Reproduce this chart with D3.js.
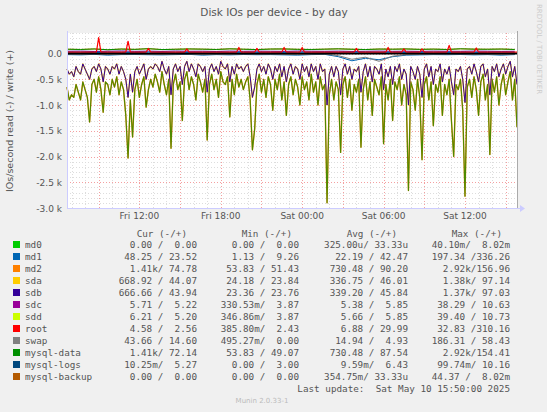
<!DOCTYPE html>
<html><head><meta charset="utf-8">
<script src="https://cdn.jsdelivr.net/npm/d3@7"></script>
<style>body{margin:0;background:#f0f0f0}svg text{white-space:pre}</style>
</head><body><svg id="c" width="547" height="412"></svg>
<script>
// 10-minute samples starting Fri 06:40, ending Sat 15:50 (values in IO/s)
const mysqlDataRead = [-650,-900,-800,-850,-600,-750,-900,-550,-700,-850,
-1330,-600,-500,-750,-450,-700,-1140,-550,-600,-800,
-500,-650,-450,-800,-550,-700,-1200,-2030,-900,-1620,
-700,-500,-850,-600,-450,-1040,-700,-500,-650,-400,
-550,-750,-350,-600,-800,-500,-1840,-600,-400,-700,
-550,-1300,-500,-350,-700,-450,-600,-900,-400,-550,
-750,-500,-1680,-600,-400,-700,-500,-850,-350,-550,
-600,-450,-1230,-500,-800,-400,-650,-500,-700,-550,
-450,-900,-1870,-1460,-600,-400,-750,-500,-850,-450,
-600,-1100,-500,-700,-400,-900,-550,-1200,-600,-450,
-800,-500,-650,-1000,-450,-700,-550,-900,-400,-750,
-550,-1000,-450,-700,-600,-2900,-800,-500,-900,-550,
-700,-1920,-600,-450,-850,-500,-1100,-600,-750,-500,
-1820,-700,-450,-900,-550,-1200,-500,-650,-800,-450,
-1750,-600,-900,-500,-1300,-550,-700,-450,-1000,-600,
-800,-2660,-550,-700,-1100,-500,-850,-2060,-600,-450,
-900,-550,-1400,-600,-750,-450,-1200,-600,-800,-500,
-1300,-2000,-600,-700,-500,-1100,-2770,-650,-500,-850,
-450,-700,-1200,-550,-400,-900,-600,-1960,-500,-750,
-450,-1000,-600,-400,-800,-550,-350,-900,-500,-1430];
const sdbRead = [-300,-400,-350,-450,-250,-350,-400,-200,-300,-400,
-500,-300,-250,-350,-200,-300,-550,-250,-300,-400,
-250,-300,-200,-400,-250,-350,-500,-850,-400,-750,
-350,-250,-400,-300,-200,-500,-300,-250,-300,-200,
-250,-350,-150,-300,-400,-250,-800,-300,-200,-350,
-250,-600,-250,-150,-350,-200,-300,-450,-200,-250,
-350,-250,-750,-300,-200,-350,-250,-400,-150,-250,
-300,-200,-550,-250,-400,-200,-300,-250,-350,-250,
-200,-450,-850,-650,-300,-200,-350,-250,-400,-200,
-300,-500,-250,-350,-200,-450,-250,-550,-300,-200,
-400,-250,-300,-500,-200,-350,-250,-450,-200,-350,
-250,-500,-200,-350,-300,-1000,-400,-250,-450,-250,
-350,-800,-300,-200,-400,-250,-500,-300,-350,-250,
-750,-350,-200,-450,-250,-550,-250,-300,-400,-200,
-700,-300,-450,-250,-600,-250,-350,-200,-500,-300,
-400,-1000,-250,-350,-500,-250,-400,-850,-300,-200,
-450,-250,-600,-300,-350,-200,-550,-300,-400,-250,
-550,-800,-300,-350,-250,-500,-950,-300,-250,-400,
-200,-350,-550,-250,-200,-450,-300,-800,-250,-350,
-200,-450,-300,-200,-400,-250,-150,-450,-250,-600];
// hourly samples (34 points, Fri 06:40 .. Sat 15:40)
const mysqlDataWrite = [85,80,90,75,88,82,95,78,84,90,86,80,92,85,78,88,90,83,80,86,92,84,79,88,85,90,82,87,80,93,86,84,88,80];
const sdbWrite = [45,48,42,46,50,44,47,43,49,45,46,42,48,44,47,45,43,49,46,44,47,42,45,48,44,46,43,47,45,44,48,46,43,45];
const md1Write = [22,25,20,24,23,21,26,22,24,20,23,25,21,24,22,23,20,25,24,22,21,23,26,22,24,21,23,25,22,24,20,23,25,22];
const md1Read = [-20,-25,-15,-30,-20,-18,-22,-25,-20,-15,-30,-20,-25,-18,-22,-20,-25,-30,-20,-15,-60,-140,-90,-120,-60,-30,-25,-20,-22,-18,-25,-20,-30,-20];
const swapRead = [-10,-15,-8,-20,-12,-10,-14,-18,-10,-8,-20,-12,-15,-10,-12,-10,-15,-20,-12,-10,-40,-110,-70,-150,-50,-20,-15,-12,-10,-8,-15,-12,-20,-10];
// root write: [sample index (10 min), value]
const rootWrite = [[0,30],[13,30],[14,310],[15,30],[26,30],[27,240],[28,30],[35,30],[36,100],[37,30],[52,30],[53,90],[54,30],[75,30],[76,120],[77,30],[83,30],[84,100],[85,30],[95,30],[96,120],[97,30],[103,30],[104,120],[105,30],[127,30],[128,100],[129,30],[141,30],[142,120],[143,30],[148,30],[149,90],[150,30],[156,30],[157,90],[158,30],[168,30],[169,160],[170,30],[180,30],[181,110],[182,30],[199,30]];
const yTicks = [0,-500,-1000,-1500,-2000,-2500,-3000];
const yTickLabels = ["0.0","-0.5 k","-1.0 k","-1.5 k","-2.0 k","-2.5 k","-3.0 k"];
const xTickLabels = ["Fri 12:00","Fri 18:00","Sat 00:00","Sat 06:00","Sat 12:00"];
const legendNames = ["md0","md1","md2","sda","sdb","sdc","sdd","root","swap","mysql-data","mysql-logs","mysql-backup"];
const legendColors = ["#00CC00","#0066B3","#FF8000","#FFCC00","#330099","#990099","#CCFF00","#FF0000","#808080","#008F00","#00487D","#B35A00"];
const curCol = ["0.00 /  0.00","48.25 / 23.52","1.41k/ 74.78","668.92 / 44.07","666.66 / 43.94","5.71 /  5.22","6.21 /  5.20","4.58 /  2.56","43.66 / 14.60","1.41k/ 72.14","10.25m/  5.27","0.00 /  0.00"];
const minCol = ["0.00 /  0.00","1.13 /  9.26","53.83 / 51.43","24.18 / 23.84","23.36 / 23.76","330.53m/  3.87","346.86m/  3.87","385.80m/  2.43","495.27m/  0.00","53.83 / 49.07","0.00 /  3.00","0.00 /  0.00"];
const avgCol = ["325.00u/ 33.33u","22.19 / 42.47","730.48 / 90.20","336.75 / 46.01","339.20 / 45.84","5.38 /  5.85","5.66 /  5.85","6.88 / 29.99","14.94 /  4.93","730.48 / 87.54","9.59m/  6.43","354.75m/ 33.33u"];
const maxCol = ["40.10m/  8.02m","197.34 /336.26","2.92k/156.96","1.38k/ 97.14","1.37k/ 97.03","38.29 / 10.63","39.40 / 10.73","32.83 /310.16","186.31 / 58.43","2.92k/154.41","99.74m/ 10.16","44.37 /  8.02m"];

const svg = d3.select("#c");
const L=67,R=517,T=33,B=208;
const t0 = new Date(2025,4,9,6,40);
const tEnd = new Date(2025,4,10,15,50);
const x = d3.scaleTime().domain([t0,tEnd]).range([L,R]);
const y = d3.scaleLinear().domain([-3000,400]).range([B,T]);
const tAt = i => new Date(+t0 + i*600000);
const tHr = i => new Date(+t0 + i*3600000);

svg.append("rect").attr("x",L).attr("y",T).attr("width",R-L).attr("height",B-T).attr("fill","#fff");
const g = svg.append("g");
d3.range(-3000,401,100).forEach(v=>{ if(v%500!==0) g.append("line").attr("x1",L).attr("x2",R).attr("y1",Math.round(y(v))+.5).attr("y2",Math.round(y(v))+.5).attr("stroke","#ddd").attr("stroke-dasharray","1,2");});
x.ticks(d3.timeHour.every(1)).forEach(d=>{ if(d.getHours()%3!==0) g.append("line").attr("x1",Math.round(x(d))+.5).attr("x2",Math.round(x(d))+.5).attr("y1",T).attr("y2",B).attr("stroke","#ddd").attr("stroke-dasharray","1,2");});
yTicks.forEach(v=>g.append("line").attr("x1",L).attr("x2",R).attr("y1",Math.round(y(v))+.5).attr("y2",Math.round(y(v))+.5).attr("stroke","#f4a0a0").attr("stroke-dasharray","1,2"));
x.ticks(d3.timeHour.every(3)).forEach(d=>g.append("line").attr("x1",Math.round(x(d))+.5).attr("x2",Math.round(x(d))+.5).attr("y1",T).attr("y2",B).attr("stroke","#f4a0a0").attr("stroke-dasharray","1,2"));

const line = d3.line().x(d=>x(d[0])).y(d=>y(d[1]));
const draw=(pts,c,w,o)=>svg.append("path").attr("d",line(pts)).attr("fill","none").attr("stroke",c).attr("stroke-width",w).attr("opacity",o||1).attr("stroke-linejoin","round");
const s10 = arr=>arr.map((v,i)=>[tAt(i),v]);
const sH = arr=>arr.map((v,i)=>[tHr(i),v]);

draw(sH(md1Read),"#0066B3",1);
draw(sH(swapRead),"#808080",1);
draw(s10(mysqlDataRead),"#FF8000",1.4);
draw(s10(mysqlDataRead),"#008F00",1.1,0.7);
draw(s10(sdbRead),"#FFCC00",1.3);
draw(s10(sdbRead),"#330099",1);
draw(sH(mysqlDataWrite),"#FF8000",1);
draw(sH(mysqlDataWrite),"#008F00",1);
draw(sH(sdbWrite),"#330099",1);
draw(sH(md1Write),"#0066B3",1);
draw(rootWrite.map(d=>[tAt(d[0]),d[1]]),"#FF0000",1.2);
svg.append("line").attr("x1",L).attr("x2",R).attr("y1",y(0)).attr("y2",y(0)).attr("stroke","#000").attr("stroke-width",1.6);

svg.append("line").attr("x1",L+.5).attr("x2",L+.5).attr("y1",T-2).attr("y2",B).attr("stroke","#ccccff");
svg.append("line").attr("x1",L).attr("x2",R+4).attr("y1",B+.5).attr("y2",B+.5).attr("stroke","#ccccff");
svg.append("path").attr("d",`M${R+3},${B-3}L${R+8},${B+.5}L${R+3},${B+4}Z`).attr("fill","#ccccff");
svg.append("line").attr("x1",R+.5).attr("x2",R+.5).attr("y1",T-2).attr("y2",B).attr("stroke","#aaa");
const font="DejaVu Sans";
yTicks.forEach((v,i)=>svg.append("text").attr("x",62).attr("y",y(v)+3.5).attr("text-anchor","end").attr("font-family",font).attr("font-size",9).attr("fill","#555").text(yTickLabels[i]));
x.ticks(d3.timeHour.every(6)).forEach((d,i)=>{ if(xTickLabels[i]) svg.append("text").attr("x",x(d)).attr("y",219).attr("text-anchor","middle").attr("font-family",font).attr("font-size",9).attr("fill","#555").text(xTickLabels[i]);});
svg.append("text").attr("x",274).attr("y",16).attr("text-anchor","middle").attr("font-family",font).attr("font-size",10.5).attr("fill","#555").text("Disk IOs per device - by day");
svg.append("text").attr("transform","translate(13,121) rotate(-90)").attr("text-anchor","middle").attr("font-family",font).attr("font-size",9.5).attr("fill","#555").text("IOs/second read (-) / write (+)");
svg.append("text").attr("transform","translate(537,4) rotate(90)").attr("font-family",font).attr("font-size",7).attr("fill","#ccc").text("RRDTOOL / TOBI OETIKER");

const mono="DejaVu Sans Mono", fs=9.3;
const lt=(xx,yy,s,a,c)=>svg.append("text").attr("x",xx).attr("y",yy).attr("text-anchor",a||"start").attr("font-family",mono).attr("font-size",fs).attr("fill",c||"#555").text(s);
lt(187,237,"Cur (-/+)","end");lt(292,237,"Min (-/+)","end");lt(397,237,"Avg (-/+)","end");lt(502,237,"Max (-/+)","end");
legendNames.forEach((n,i)=>{
  const yy=248+i*12;
  svg.append("rect").attr("x",13).attr("y",yy-7).attr("width",7).attr("height",7).attr("fill",legendColors[i]);
  lt(25,yy,n);
  lt(197,yy,curCol[i],"end");lt(299,yy,minCol[i],"end");lt(408,yy,avgCol[i],"end");lt(510,yy,maxCol[i],"end");
});
lt(510,392,"Last update:  Sat May 10 15:50:00 2025","end");
svg.append("text").attr("x",262).attr("y",403).attr("text-anchor","middle").attr("font-family",font).attr("font-size",7).attr("fill","#bbb").text("Munin 2.0.33-1");
</script></body></html>
